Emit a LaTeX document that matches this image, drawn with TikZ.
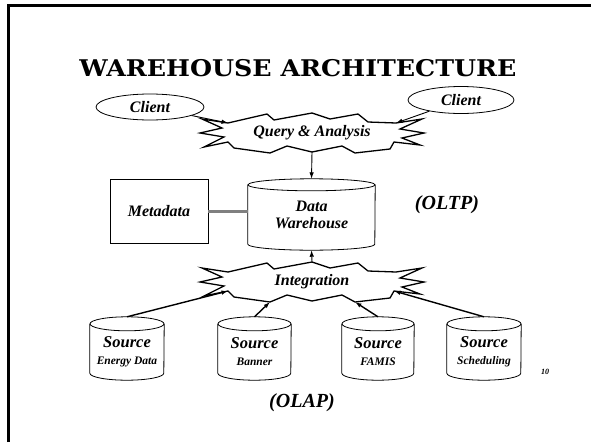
\documentclass[tikz,border=0pt]{standalone}
\usepackage{graphicx}
\usepackage{fontspec}
\setmainfont{Liberation Serif}
\newfontfamily\titlefont{DejaVu Serif}
\usetikzlibrary{arrows.meta,shapes.geometric}

% database cylinder: name, centre, width, height, ellipse y-radius, text lift, text
\newcommand\dbcyl[7]{%
  \node[cylbox, minimum width=#3pt, minimum height=#4pt] (#1) at (#2) {};
  \draw[cylline] ([yshift=-#5pt]#1.north) ellipse [x radius={#3pt/2}, y radius=#5pt];
  \draw[cylline] ([yshift=-#5pt]#1.north west) -- ([yshift=#5pt]#1.south west)
     arc [start angle=180, end angle=360, x radius={#3pt/2}, y radius=#5pt]
     -- ([yshift=-#5pt]#1.north east);
  \node[cyltext] (#1-t) at ([yshift=#6pt]#1.center) {#7};
}

\tikzset{
  lbl/.style={font=\bfseries\itshape\fontsize{16}{18}\selectfont, inner sep=0pt},
  big/.style={font=\bfseries\itshape\fontsize{20}{22}\selectfont, inner sep=0pt},
  client/.style={lbl, ellipse, draw, line width=0.8pt, minimum width=108pt, minimum height=26pt},
  box/.style={lbl, draw, line width=0.8pt, minimum width=98pt, minimum height=64pt},
  cylbox/.style={inner sep=0pt},
  cyltext/.style={lbl, align=center},
  cylline/.style={line width=0.8pt},
  burstline/.style={line width=1.3pt, line join=miter},
  arr/.style={-{Latex[length=6.5pt,width=4.5pt]}, line width=0.9pt},
  srcarr/.style={arr, line width=1.4pt},
  link/.style={line width=3pt, draw=black!50},
  burst/.pic={
    \draw[burstline]
      (-84,-10) -- (-45,-19) -- (-38,-13) -- (0,-20) -- (18,-14) -- (46,-19)
      -- (56,-11) -- (84,-10)
      -- (110,-14) -- (88,-4) -- (112,0) -- (90,5) -- (108,12) -- (82,9)
      -- (78,16) -- (43,20) -- (30,13) -- (0,19) -- (-25,13) -- (-42,20)
      -- (-78,15)
      -- (-84,9) -- (-108,14) -- (-88,4) -- (-112,0) -- (-90,-5) -- (-110,-14)
      -- cycle;
    \coordinate (-tl) at (-84,-10);
    \coordinate (-tr) at (84,-10);
    \coordinate (-top) at (0,-20);
    \coordinate (-bot) at (0,19);
    \coordinate (-bl) at (-84,9);
    \coordinate (-br) at (82,9);
    \coordinate (-bml) at (-42,20);
    \coordinate (-bmr) at (43,20);
  }
}

\newcommand\srctext[1]{{\fontsize{16.5}{18}\selectfont Source}\\[-1pt]{\fontsize{11.5}{13}\selectfont #1}}

\begin{document}
\begin{tikzpicture}[x=1pt, y=-1pt]
\useasboundingbox (0,0) rectangle (591,442);
\fill[white] (0,0) rectangle (591,442);

% slide frame (top and left edges)
\draw[line width=3pt] (8.5,442) -- (8.5,5.5) -- (591,5.5);

% title
\node[font=\titlefont\bfseries\fontsize{23}{26}\selectfont, inner sep=0pt] (ttl) at (298,68)
  {\scalebox{1.1}[1]{WAREHOUSE ARCHITECTURE}};

% clients and query layer
\node[client] (c1) at (150,107) {Client};
\node[client, minimum width=106pt, minimum height=27pt] (c2) at (461,100) {Client};
\pic (qab) at (312,133) {burst};
\node[lbl] (qa) at (312,133) {Query \& Analysis};

% warehouse and metadata
\dbcyl{dw}{311.5,214.5}{127}{71}{6}{-0.5}{Data\\[-1.5pt]Warehouse}
\node[box] (md) at (159,211) {Metadata};
\draw[link] (md.east) -- (md.east -| dw.west);
\node[big] (oltp) at (447,205) {(OLTP)};

% integration layer
\pic (igb) at (312,282) {burst};
\node[lbl] (ig) at (312,282) {Integration};

% sources
\dbcyl{s1}{127,348.5}{74}{63}{7}{-3.5}{\srctext{Energy Data}}
\dbcyl{s2}{254.5,348.5}{73}{63}{7}{-3.5}{\srctext{Banner}}
\dbcyl{s3}{378,348.5}{72}{63}{7}{-3.5}{\srctext{FAMIS}}
\dbcyl{s4}{484,348.5}{74}{63}{7}{-3.5}{\srctext{Scheduling}}

\node[big] (olap) at (302,403) {(OLAP)};
\node[lbl, font=\bfseries\itshape\fontsize{8}{9}\selectfont] (pg) at (545,372) {10};

% connectors
\draw[arr] (c1) -- (qab-tl);
\draw[arr] (c2) -- (qab-tr);
\draw[arr] (qab-bot) -- (dw.north);
\draw[arr] (igb-top) -- (dw.south);
\draw[srcarr] (s1.north) -- (igb-bl);
\draw[srcarr] (s2.north) -- (igb-bml);
\draw[srcarr] (s3.north) -- (igb-bmr);
\draw[srcarr] (s4.north) -- (igb-br);
\end{tikzpicture}
\end{document}
